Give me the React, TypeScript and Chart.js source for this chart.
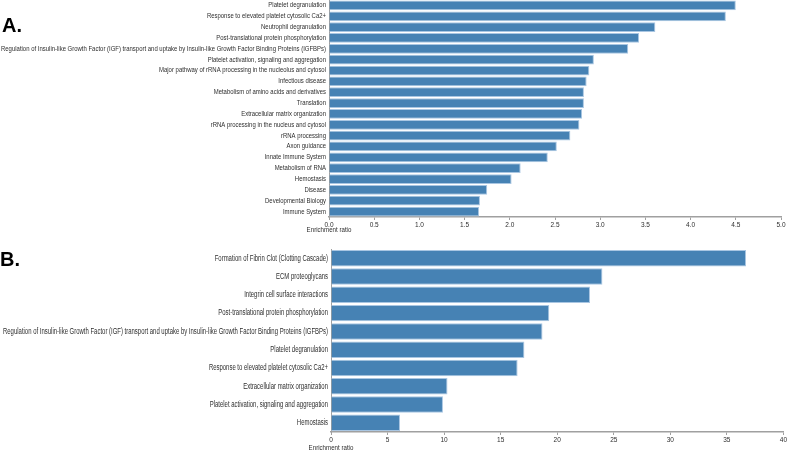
import React, { useEffect, useRef } from "react";
import { Chart, registerables } from "chart.js";

Chart.register(...registerables);

const categoriesA = [
  "Platelet degranulation",
  "Response to elevated platelet cytosolic Ca2+",
  "Neutrophil degranulation",
  "Post-translational protein phosphorylation",
  "Regulation of Insulin-like Growth Factor (IGF) transport and uptake by Insulin-like Growth Factor Binding Proteins (IGFBPs)",
  "Platelet activation, signaling and aggregation",
  "Major pathway of rRNA processing in the nucleolus and cytosol",
  "Infectious disease",
  "Metabolism of amino acids and derivatives",
  "Translation",
  "Extracellular matrix organization",
  "rRNA processing in the nucleus and cytosol",
  "rRNA processing",
  "Axon guidance",
  "Innate Immune System",
  "Metabolism of RNA",
  "Hemostasis",
  "Disease",
  "Developmental Biology",
  "Immune System",
];
const valuesA = [4.5, 4.39, 3.61, 3.43, 3.31, 2.93, 2.88, 2.85, 2.82, 2.82, 2.8, 2.77, 2.67, 2.52, 2.42, 2.12, 2.02, 1.75, 1.67, 1.66];
const ticksA = [0, 0.5, 1, 1.5, 2, 2.5, 3, 3.5, 4, 4.5, 5];

const categoriesB = [
  "Formation of Fibrin Clot (Clotting Cascade)",
  "ECM proteoglycans",
  "Integrin cell surface interactions",
  "Post-translational protein phosphorylation",
  "Regulation of Insulin-like Growth Factor (IGF) transport and uptake by Insulin-like Growth Factor Binding Proteins (IGFBPs)",
  "Platelet degranulation",
  "Response to elevated platelet cytosolic Ca2+",
  "Extracellular matrix organization",
  "Platelet activation, signaling and aggregation",
  "Hemostasis",
];
const valuesB = [36.7, 24.0, 22.9, 19.3, 18.7, 17.1, 16.5, 10.3, 9.9, 6.1];
const ticksB = [0, 5, 10, 15, 20, 25, 30, 35, 40];

const axisTitle = "Enrichment ratio";
const FONT = "'Liberation Sans', Arial, sans-serif";
const TEXT = "#2e2e2e";
const BAR = "#4682b4";
const BAR_EDGE = "#a9c6e2";
const AXIS = "#a0a0a0";

// Plugin: squeezes y-axis category labels horizontally so the widest fits a target width
const squeezeLabels = {
  id: "squeezeLabels",
  beforeDraw(chart: any, _args: any, opts: any) {
    const scale = chart.scales.y;
    if (!scale || scale.__squeezed) return;
    scale.__squeezed = true;
    const orig = scale.drawLabels.bind(scale);
    scale._computeLabelArea = () => undefined;
    scale.drawLabels = (area: any) => {
      const ctx = chart.ctx;
      const f = scale.options.ticks.font;
      ctx.save();
      ctx.font = `${f.size}px ${f.family}`;
      let maxW = 0;
      for (const l of chart.data.labels) maxW = Math.max(maxW, ctx.measureText(l).width);
      ctx.restore();
      const k = Math.min(1, opts.width / maxW);
      const rx = scale.right - scale.options.ticks.padding;
      ctx.save();
      ctx.translate(rx, 0);
      ctx.scale(k, 1);
      ctx.translate(-rx, 0);
      orig(area);
      ctx.restore();
    };
  },
};

function makeConfig(
  labels: string[],
  values: number[],
  tickVals: number[],
  decimals: number,
  yWidth: number,
  xHeight: number,
  padRight: number,
  fontSize: number,
  labelWidth: number
): any {
  return {
    type: "bar",
    data: {
      labels,
      datasets: [
        {
          data: values,
          backgroundColor: BAR,
          borderColor: BAR_EDGE,
          borderWidth: 1,
          categoryPercentage: 1,
          barPercentage: 0.9,
        },
      ],
    },
    plugins: [squeezeLabels],
    options: {
      indexAxis: "y",
      responsive: false,
      animation: false,
      layout: { padding: { top: 8, right: padRight, left: 0, bottom: 0 } },
      plugins: {
        legend: { display: false },
        tooltip: { enabled: false },
        squeezeLabels: { width: labelWidth },
      },
      scales: {
        x: {
          type: "linear",
          min: tickVals[0],
          max: tickVals[tickVals.length - 1],
          afterBuildTicks: (scale: any) => {
            scale.ticks = tickVals.map((v) => ({ value: v }));
          },
          afterFit: (scale: any) => {
            scale.height = xHeight;
          },
          grid: { display: true, drawOnChartArea: false, drawTicks: true, tickLength: 3, color: AXIS, lineWidth: 1 },
          border: { display: true, color: AXIS, width: 1.5 },
          ticks: {
            padding: 1,
            maxRotation: 0,
            autoSkip: false,
            color: TEXT,
            font: { family: FONT, size: 6.5 },
            callback: (v: any) => Number(v).toFixed(decimals),
          },
        },
        y: {
          type: "category",
          afterFit: (scale: any) => {
            scale.width = yWidth;
          },
          grid: { display: false, drawTicks: false },
          border: { display: true, color: AXIS, width: 1 },
          ticks: {
            padding: 3,
            autoSkip: false,
            color: TEXT,
            font: { family: FONT, size: fontSize },
          },
        },
      },
    },
  };
}

export default function App() {
  const refA = useRef<HTMLCanvasElement>(null);
  const refB = useRef<HTMLCanvasElement>(null);

  useEffect(() => {
    const a = new Chart(refA.current as HTMLCanvasElement, makeConfig(categoriesA, valuesA, ticksA, 1, 329, 15, 7, 7, 325));
    const b = new Chart(refB.current as HTMLCanvasElement, makeConfig(categoriesB, valuesB, ticksB, 0, 331, 16, 4, 8.5, 325));
    return () => {
      a.destroy();
      b.destroy();
    };
  }, []);

  const labelStyle: React.CSSProperties = {
    position: "absolute",
    fontFamily: "'Liberation Sans', Arial, sans-serif",
    fontWeight: "bold",
    fontSize: 20,
    lineHeight: "20px",
    color: "#000",
  };
  const titleStyle: React.CSSProperties = {
    position: "absolute",
    width: 80,
    textAlign: "center",
    fontFamily: FONT,
    fontSize: 7.5,
    lineHeight: "8px",
    color: TEXT,
    whiteSpace: "nowrap",
    transform: "scaleX(0.82)",
  };

  return (
    <div style={{ position: "fixed", left: 0, top: 0, width: 788, height: 451, background: "#fff", overflow: "hidden" }}>
      <canvas ref={refA} width={788} height={240} style={{ position: "absolute", left: 0, top: -8 }} />
      <canvas ref={refB} width={788} height={207} style={{ position: "absolute", left: 0, top: 241 }} />
      <div style={{ ...labelStyle, left: 2, top: 15 }}>A.</div>
      <div style={{ ...labelStyle, left: 0, top: 249 }}>B.</div>
      <div style={{ ...titleStyle, left: 289, top: 226 }}>{axisTitle}</div>
      <div style={{ ...titleStyle, left: 291, top: 444 }}>{axisTitle}</div>
    </div>
  );
}
